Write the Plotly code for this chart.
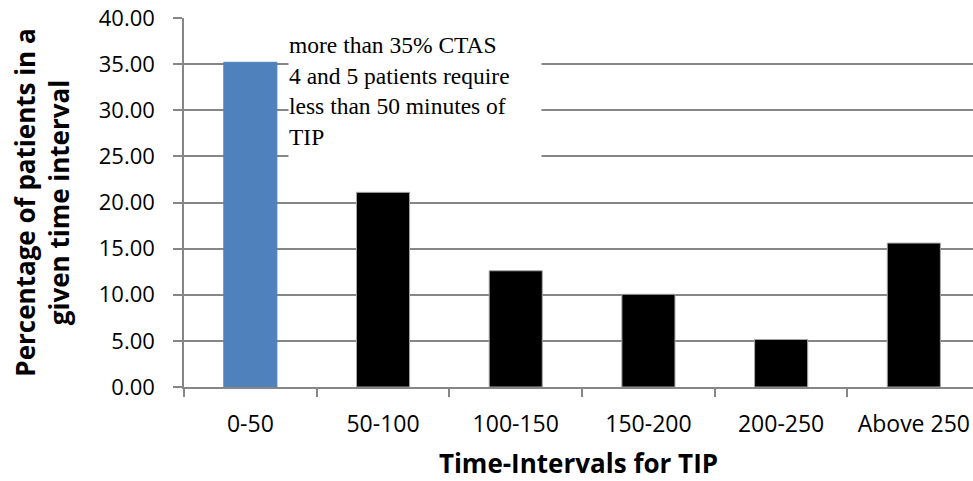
import plotly.graph_objects as go

categories = ["0-50", "50-100", "100-150", "150-200", "200-250", "Above 250"]
percentages = [35.2, 21.1, 12.6, 10.05, 5.15, 15.6]
bar_colors = ["#4F81BD", "#000000", "#000000", "#000000", "#000000", "#000000"]
line_colors = ["#4F81BD", "#A6A6A6", "#A6A6A6", "#A6A6A6", "#A6A6A6", "#A6A6A6"]
y_ticks = [0, 5, 10, 15, 20, 25, 30, 35, 40]
note_text = "more than 35% CTAS<br>4 and 5 patients require<br>less than 50 minutes of<br>TIP"

W, H = 973, 481
ml, mr, mt, mb = 184, 0, 18, 93.5

fig = go.Figure()
fig.add_trace(go.Bar(
    x=categories, y=percentages,
    marker=dict(color=bar_colors, line=dict(color=line_colors, width=1)),
    width=0.4,
    showlegend=False,
))

fig.update_layout(
    width=W, height=H,
    margin=dict(l=ml, r=mr, t=mt, b=mb, pad=0),
    paper_bgcolor="white", plot_bgcolor="white",
    font=dict(family="Open Sans", color="#000000"),
    xaxis=dict(
        type="category",
        range=[-0.5, 5.446],
        showgrid=False,
        showline=True, linecolor="#868686", linewidth=1.5,
        ticks="outside", tickson="boundaries", ticklen=8, tickcolor="#868686", tickwidth=1.5,
        tickfont=dict(family="Open Sans", size=23, color="#000000"),
        ticklabelstandoff=16,
        title=dict(text="<b>Time-Intervals for TIP</b>",
                   font=dict(family="Open Sans", size=26, color="#000000"),
                   standoff=22),
    ),
    yaxis=dict(
        range=[0, 40],
        tickvals=y_ticks,
        tickformat=".2f",
        showgrid=True, gridcolor="#868686", gridwidth=1.5,
        showline=True, linecolor="#868686", linewidth=1.5,
        ticks="outside", ticklen=9, tickcolor="#868686", tickwidth=1.5,
        tickfont=dict(family="Open Sans", size=22, color="#000000"),
        ticklabelstandoff=14,
        zeroline=False,
        title=dict(text="<b>Percentage of patients in a<br>given time interval</b>",
                   font=dict(family="Open Sans", size=26, color="#000000"),
                   standoff=22),
    ),
    bargap=0.6,
)

fig.add_annotation(
    xref="paper", yref="paper",
    x=(288 - ml) / (W - ml - mr), y=1 - (31 - mt) / (H - mt - mb),
    xanchor="left", yanchor="top",
    text=note_text, showarrow=False, align="left",
    font=dict(family="Liberation Serif", size=23.5, color="#000000"),
    bgcolor="white", borderpad=0, width=252, height=128, valign="top",
)

fig.write_html("out.html")
